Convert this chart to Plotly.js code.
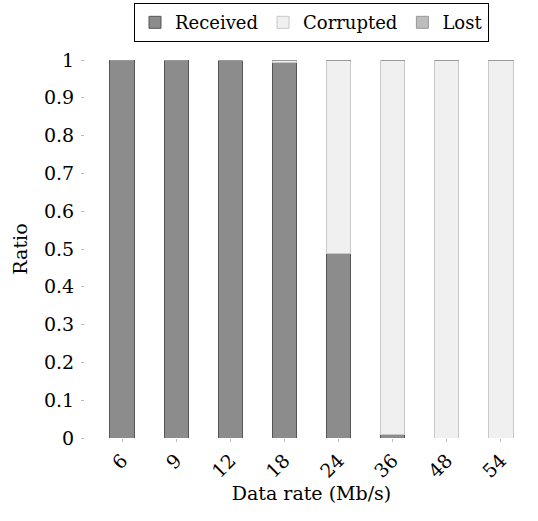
<!DOCTYPE html>
<html><head><meta charset="utf-8">
<script src="https://cdn.plot.ly/plotly-3.0.1.min.js"></script>
<style>html,body{margin:0;padding:0;background:#fff}#c{width:538px;height:521px}</style>
</head><body><div id="c"></div>
<script>
const categories = ["6","9","12","18","24","36","48","54"];
const received = [1.0, 1.0, 0.998, 0.993, 0.487, 0.010, 0.0, 0.0];
const corrupted = [0.0, 0.0, 0.002, 0.007, 0.513, 0.990, 1.0, 0.998];
const lost = [0.0, 0.0, 0.0, 0.0, 0.0, 0.0, 0.0, 0.002];
const yTicks = [0,0.1,0.2,0.3,0.4,0.5,0.6,0.7,0.8,0.9,1];
const yTickLabels = ["0","0.1","0.2","0.3","0.4","0.5","0.6","0.7","0.8","0.9","1"];

const FAM = "'DejaVu Serif', serif";
const SZ = 19;
const font = {family:FAM, size:SZ, color:"#000"};
const traces = [
  {name:"Received", x:categories, y:received, type:"bar", marker:{color:"#8c8c8c", line:{color:"#555555", width:1}}},
  {name:"Corrupted", x:categories, y:corrupted, type:"bar", marker:{color:"#f0f0f0", line:{color:"#c8c8c8", width:1}}},
  {name:"Lost", x:categories, y:lost, type:"bar", marker:{color:"#bdbdbd", line:{color:"#999999", width:1}}}
];
const layout = {
  width:538, height:521,
  margin:{l:85, r:0, t:60, b:83, autoexpand:false},
  barmode:"stack", bargap:0.55,
  font:font,
  paper_bgcolor:"#fff", plot_bgcolor:"#fff",
  showlegend:true,
  legend:{orientation:"h", x:0.5, xanchor:"center", y:0.994, yref:"container", yanchor:"top",
    bordercolor:"#000", borderwidth:1, font:{family:FAM, size:18, color:"#000"},
    itemwidth:30, tracegroupgap:0, traceorder:"normal", itemclick:false},
  xaxis:{type:"category", range:[-0.685,7.685], tickangle:-45, showline:false, showgrid:false, zeroline:false, automargin:false,
    ticks:"outside", ticklen:3, tickcolor:"#bbb", tickfont:{family:FAM, size:SZ},
    title:{text:"Data rate (Mb/s)", font:{family:FAM, size:SZ}, standoff:2}},
  yaxis:{range:[0,1], tickvals:yTicks, ticktext:yTickLabels, showline:false, showgrid:false, zeroline:false, automargin:false,
    ticks:"outside", ticklen:3, tickcolor:"#bbb", tickfont:{family:FAM, size:SZ}, ticklabelstandoff:3,
    title:{text:"Ratio", font:{family:FAM, size:SZ}, standoff:11}}
};
Plotly.newPlot("c", traces, layout, {displayModeBar:false, staticPlot:true});
</script></body></html>
